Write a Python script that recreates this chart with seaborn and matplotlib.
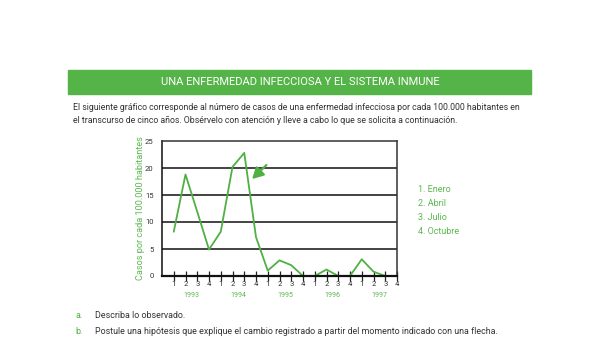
import matplotlib
matplotlib.use("Agg")
import matplotlib.pyplot as plt
import seaborn as sns
import pandas as pd
import numpy as np

# ---- data ----
quarter_labels = ["1", "2", "3", "4"] * 5
years = ["1993", "1994", "1995", "1996", "1997"]
cases = [8.2, 18.8, 11.9, 4.9,
         8.2, 20.2, 22.8, 7.2,
         1.0, 2.9, 2.0, 0.0,
         0.0, 1.2, 0.0, 0.0,
         3.1, 0.8, 0.0]
legend_items = ["1. Enero", "2. Abril", "3. Julio", "4. Octubre"]
y_ticks = [0, 5, 10, 15, 20, 25]

GREEN = "#4fb043"
LIGHT_GREEN = "#5cb850"
TEXT = "#333333"

sns.set_theme(style="white")
plt.rcParams['font.family'] = ['Roboto', 'DejaVu Sans']

fig = plt.figure(figsize=(6, 3.4), dpi=100)
W, H = 600, 340

# header bar
fig.patches.append(matplotlib.patches.Rectangle((68 / W, 1 - 94 / H), (531 - 68) / W, 24 / H,
                                                transform=fig.transFigure, color="#55b447", zorder=0))
fig.text(300 / W, 1 - 82 / H, "UNA ENFERMEDAD INFECCIOSA Y EL SISTEMA INMUNE", color="white",
         ha="center", va="center", fontsize=8.0)
fig.text(73 / W, 1 - 107 / H,
         "El siguiente gráfico corresponde al número de casos de una enfermedad infecciosa por cada 100.000 habitantes en",
         color=TEXT, ha="left", va="center", fontsize=6.35)
fig.text(73 / W, 1 - 120 / H,
         "el transcurso de cinco años. Obsérvelo con atención y lleve a cabo lo que se solicita a continuación.",
         color=TEXT, ha="left", va="center", fontsize=6.35)

ax = fig.add_axes([162 / W, 1 - 276 / H, (397 - 162) / W, (276 - 141) / H])
df = pd.DataFrame({"pos": np.arange(1, len(cases) + 1), "cases": cases})
sns.lineplot(data=df, x="pos", y="cases", ax=ax, color=GREEN, linewidth=1.3, zorder=2)

ax.set_xlim(0, 20)
ax.set_ylim(0, 25)
ax.set_yticks(y_ticks)
ax.set_yticklabels([str(v) for v in y_ticks], fontsize=5.5, color=TEXT)
for v in y_ticks[1:-1]:
    ax.axhline(v, color="#111111", linewidth=1.1, zorder=1)
ax.set_xticks(np.arange(1, 21))
ax.set_xticklabels(quarter_labels, fontsize=5.5, color=TEXT)
ax.tick_params(axis="x", direction="inout", length=7, width=0.9, color="#222222", pad=0, bottom=True)
ax.tick_params(axis="y", length=0, pad=6)
for s in ax.spines.values():
    s.set_color("#333333")
    s.set_linewidth(1.1)
ax.spines["bottom"].set_color("#111111")
ax.spines["bottom"].set_linewidth(1.6)
ax.spines["left"].set_color("#111111")
ax.spines["bottom"].set_zorder(3)
ax.set_xlabel("")
ax.set_ylabel("Casos por cada 100.000 habitantes", color=LIGHT_GREEN, fontsize=6.6, labelpad=0)

for i, yr in enumerate(years):
    ax.text(2.5 + 4 * i, -3.6, yr, color=LIGHT_GREEN, fontsize=5, ha="center", va="center")

ax.annotate("", xy=(7.5, 17.6), xytext=(9.05, 20.9),
            arrowprops=dict(arrowstyle="-|>,head_length=0.55,head_width=0.3", color=GREEN, lw=1.6))

for i, item in enumerate(legend_items):
    fig.text(418 / W, 1 - (189 + 14 * i) / H, item, color=LIGHT_GREEN, fontsize=6.5, ha="left", va="center")

fig.text(75 / W, 1 - 316 / H, "a.", color=GREEN, fontsize=6.4, ha="left", va="center")
fig.text(95 / W, 1 - 316 / H, "Describa lo observado.", color=TEXT, fontsize=6.4, ha="left", va="center")
fig.text(75 / W, 1 - 331 / H, "b.", color=GREEN, fontsize=6.4, ha="left", va="center")
fig.text(95 / W, 1 - 331 / H,
         "Postule una hipótesis que explique el cambio registrado a partir del momento indicado con una flecha.",
         color=TEXT, fontsize=6.4, ha="left", va="center")

fig.savefig("out.png", dpi=100)
